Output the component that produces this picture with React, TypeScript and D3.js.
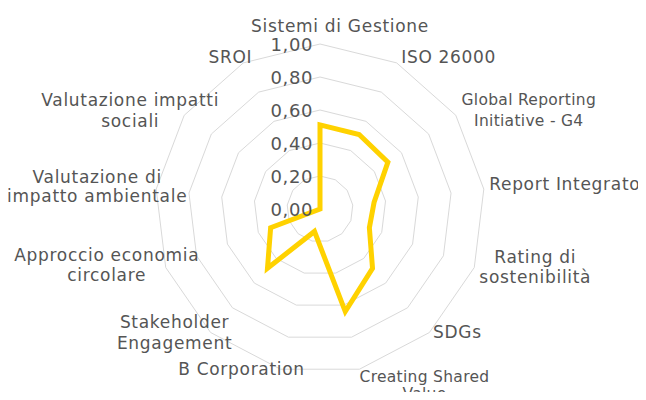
import React from "react";
import * as d3 from "d3";

// radar: strumenti di sostenibilità
const categories: string[][] = [
  ["Sistemi di Gestione"],
  ["ISO 26000"],
  ["Global Reporting", "Initiative - G4"],
  ["Report Integrato"],
  ["Rating di", "sostenibilità"],
  ["SDGs"],
  ["Creating Shared", "Value"],
  ["B Corporation"],
  ["Stakeholder", "Engagement"],
  ["Approccio economia", "circolare"],
  ["Valutazione di", "impatto ambientale"],
  ["Valutazione impatti", "sociali"],
  ["SROI"],
];
const values = [0.51, 0.51, 0.5, 0.33, 0.32, 0.48, 0.64, 0.14, 0.48, 0.32, 0, 0, 0];
const ticks = [0, 0.2, 0.4, 0.6, 0.8, 1.0];

// label nudges relative to the outer vertex (dx, dy, font size, line gap)
const labelNudge: [number, number, number, number][] = [
  [20, -12, 17, 21], [52, 0, 17, 21], [73, -10, 15.5, 21], [81, 1, 17, 21],
  [61, -5, 17, 20], [28, 5, 17, 21], [65, 13, 15.5, 17], [-39, 6, 17, 21],
  [-36, -5, 17, 21], [-59, -7, 17, 20], [-59, -6, 17, 19], [-54, -9, 17, 21], [-13, 0, 17, 21],
];

const W = 646, H = 400;
const cx = 312, cy = 201; // inside svg (body margin 8)
const R = 165;
const FONT = "'DejaVu Sans', sans-serif";
const TEXT = "#555555";

export default function App() {
  const n = categories.length;
  const angle = d3.scaleLinear().domain([0, n]).range([0, 2 * Math.PI]);
  const r = d3.scaleLinear().domain([0, 1]).range([0, R]);

  const pt = (i: number, v: number): [number, number] => {
    const a = angle(i);
    return [Math.sin(a) * r(v), -Math.cos(a) * r(v)];
  };

  const ring = (v: number) =>
    d3.range(n).map((i) => pt(i, v).join(",")).join(" ");

  const radar = d3
    .lineRadial<number>()
    .angle((_, i) => angle(i))
    .radius((d) => r(d))
    .curve(d3.curveLinearClosed);

  return (
    <svg width={W - 16} height={H - 16} style={{ display: "block", overflow: "visible" }}>
      <g transform={`translate(${cx},${cy})`}>
        {ticks.slice(1).map((t) => (
          <polygon key={t} points={ring(t)} fill="none" stroke="#d9d9d9" strokeWidth={1} />
        ))}
        <path
          d={radar(values) || ""}
          fill="none"
          stroke="#FFD200"
          strokeWidth={5}
          strokeLinejoin="miter"
        />
        {ticks.map((t) => (
          <text
            key={"t" + t}
            x={-7}
            y={-r(t) + 7}
            textAnchor="end"
            fontFamily={FONT}
            fontSize={18}
            letterSpacing={0.6}
            fill={TEXT}
          >
            {d3.format(".2f")(t).replace(".", ",")}
          </text>
        ))}
        {categories.map((lines, i) => {
          const [vx, vy] = pt(i, 1);
          const [dx, dy, fs, gap] = labelNudge[i];
          return (
            <text
              key={"c" + i}
              x={vx + dx}
              y={vy + dy}
              textAnchor="middle"
              fontFamily={FONT}
              fontSize={fs}
              letterSpacing={fs > 16 ? 0.7 : 0.3}
              fill={TEXT}
            >
              {lines.map((l, j) => (
                <tspan key={j} x={vx + dx} dy={j === 0 ? 0 : gap}>
                  {l}
                </tspan>
              ))}
            </text>
          );
        })}
      </g>
    </svg>
  );
}
